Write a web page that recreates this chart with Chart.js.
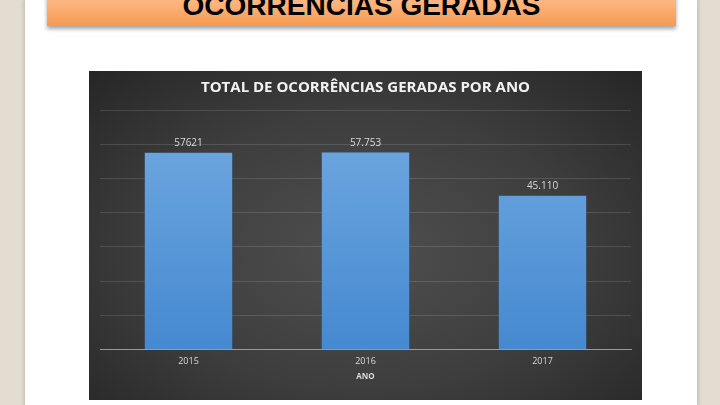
<!DOCTYPE html>
<html>
<head>
<meta charset="utf-8">
<script src="https://cdn.jsdelivr.net/npm/chart.js@4"></script>
<style>
  html, body { margin: 0; padding: 0; }
  body { width: 720px; height: 405px; overflow: hidden; background: #e3ddd1; position: relative; font-family: "Liberation Sans", Arial, sans-serif; }
  #page { position: absolute; left: 25px; top: 0; width: 672px; height: 405px; background: #fff; box-shadow: -2px 0 3px rgba(0,0,0,0.12), 2px 0 3px rgba(0,0,0,0.12); }
  #banner { position: absolute; left: 47px; top: -20px; width: 629px; height: 46px; overflow: hidden;
    background: linear-gradient(#fdc79a, #fbb27a 55%, #f79a50);
    box-shadow: 0 3px 4px rgba(0,0,0,0.35); }
  #banner span { position: absolute; left: 0; right: 0; top: 10px; height: 28px; line-height: 28px; text-align: center;
    font: bold 28px "Liberation Sans", Arial, sans-serif; color: #000; }
  #panel { position: absolute; left: 89px; top: 71px; width: 553px; height: 329px;
    background: radial-gradient(ellipse at 50% 55%, #4f4f4f 0%, #3d3d3d 55%, #262626 100%); }
  #chart { position: absolute; left: 0; top: 0; }
</style>
</head>
<body>
<div id="page"></div>
<div id="banner"><span>OCORRÊNCIAS GERADAS</span></div>
<div id="panel"><canvas id="chart" width="553" height="329"></canvas></div>
<script>
const years = ["2015", "2016", "2017"];
const totals = [57621, 57753, 45110];
const valueLabels = ["57621", "57.753", "45.110"];
const yTicks = [0, 10000, 20000, 30000, 40000, 50000, 60000, 70000];

/* rótulos acima das barras */
const barLabels = {
  id: "barLabels",
  afterDatasetsDraw(chart) {
    const ctx = chart.ctx;
    const meta = chart.getDatasetMeta(0);
    ctx.save();
    ctx.font = '10px "Open Sans", sans-serif';
    ctx.fillStyle = "#d9d9d9";
    ctx.textAlign = "center";
    ctx.textBaseline = "bottom";
    meta.data.forEach((bar, i) => {
      ctx.fillText(valueLabels[i], bar.x, bar.y - 4);
    });
    ctx.restore();
  }
};

function barFill(context) {
  const area = context.chart.chartArea;
  if (!area) return "#5b9bd5";
  const g = context.chart.ctx.createLinearGradient(0, area.top, 0, area.bottom);
  g.addColorStop(0, "#72aae2");
  g.addColorStop(1, "#4589d0");
  return g;
}

new Chart(document.getElementById("chart"), {
  type: "bar",
  data: {
    labels: years,
    datasets: [{
      data: totals,
      backgroundColor: barFill,
      borderColor: "rgba(40,90,150,0.5)",
      borderWidth: 0.5,
      categoryPercentage: 1,
      barPercentage: 0.5
    }]
  },
  options: {
    responsive: false,
    animation: false,
    devicePixelRatio: 1,
    layout: { padding: { left: 11, right: 11, top: 0, bottom: 18 } },
    plugins: {
      legend: { display: false },
      tooltip: { enabled: false },
      title: {
        display: true,
        text: "TOTAL DE OCORRÊNCIAS GERADAS POR ANO",
        color: "#f2f2f2",
        font: { family: '"Open Sans", sans-serif', size: 15, weight: "bold" },
        padding: { top: 8, bottom: 13 }
      }
    },
    scales: {
      x: {
        grid: { display: false, drawTicks: false },
        border: { display: true, color: "#9a9a9a", width: 1 },
        ticks: { color: "#d9d9d9", font: { family: '"Open Sans", sans-serif', size: 9 }, padding: 6 },
        title: { display: true, text: "ANO", color: "#d9d9d9", font: { family: '"Open Sans", sans-serif', size: 8, weight: "bold" }, padding: { top: 0, bottom: 0 } }
      },
      y: {
        min: 0,
        max: 70000,
        afterBuildTicks(axis) { axis.ticks = yTicks.map(v => ({ value: v })); },
        ticks: { display: false },
        border: { display: false },
        grid: { color: "rgba(255,255,255,0.13)", drawTicks: false }
      }
    }
  },
  plugins: [barLabels]
});
</script>
</body>
</html>
